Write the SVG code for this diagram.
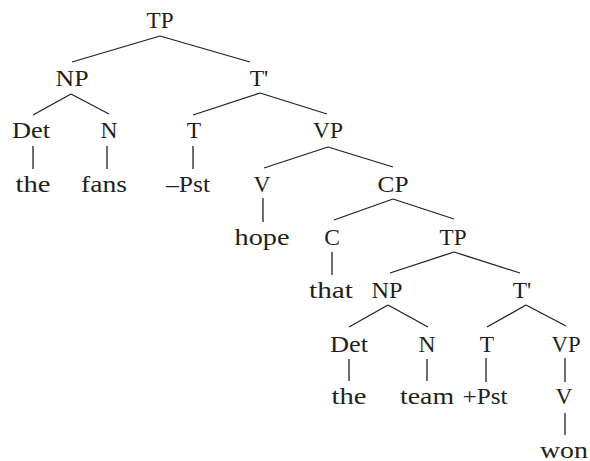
<svg xmlns="http://www.w3.org/2000/svg" width="590" height="461" viewBox="0 0 590 461">
  <style>
    .lbl { font-family: "Liberation Serif", "Times New Roman", serif; font-size: 23.5px; fill: #231f20; text-anchor: middle; }
    .edge { stroke: #231f20; stroke-width: 1.3; fill: none; stroke-linecap: butt; }
  </style>
  <rect width="590" height="461" fill="#ffffff"/>

  <!-- tree branches -->
  <g id="connectors" class="edge">
    <!-- TP (matrix) -->
    <line x1="160" y1="36" x2="72" y2="62"/>
    <line x1="160" y1="36" x2="250" y2="62"/>
    <!-- NP (subject) -->
    <line x1="71" y1="94" x2="33" y2="115"/>
    <line x1="71" y1="94" x2="109" y2="114"/>
    <!-- T' (matrix) -->
    <line x1="260" y1="93" x2="193" y2="115"/>
    <line x1="260" y1="93" x2="327" y2="114"/>
    <!-- terminals of row 2 -->
    <line x1="33" y1="146" x2="33" y2="169"/>
    <line x1="107" y1="146" x2="107" y2="169"/>
    <line x1="193" y1="146" x2="193" y2="169"/>
    <!-- VP (matrix) -->
    <line x1="328" y1="147" x2="264" y2="168"/>
    <line x1="328" y1="147" x2="393" y2="167"/>
    <!-- V hope -->
    <line x1="263" y1="198" x2="263" y2="222"/>
    <!-- CP -->
    <line x1="393" y1="199" x2="334" y2="220"/>
    <line x1="393" y1="199" x2="454" y2="219"/>
    <!-- C that -->
    <line x1="332" y1="252" x2="332" y2="275"/>
    <!-- TP (embedded) -->
    <line x1="454" y1="252" x2="390" y2="273"/>
    <line x1="454" y1="252" x2="520" y2="273"/>
    <!-- NP (embedded) -->
    <line x1="388" y1="305" x2="349" y2="327"/>
    <line x1="388" y1="305" x2="428" y2="327"/>
    <!-- T' (embedded) -->
    <line x1="526" y1="305" x2="487" y2="327"/>
    <line x1="526" y1="305" x2="566" y2="326"/>
    <!-- terminals of row 6 -->
    <line x1="349" y1="359" x2="349" y2="381"/>
    <line x1="427" y1="359" x2="427" y2="381"/>
    <line x1="486" y1="358" x2="486" y2="382"/>
    <line x1="565" y1="358" x2="565" y2="382"/>
    <!-- V won -->
    <line x1="565" y1="413" x2="565" y2="435"/>
  </g>

  <!-- matrix clause -->
  <g id="tp1"><text class="lbl" x="160" y="28" textLength="27" lengthAdjust="spacingAndGlyphs">TP</text></g>
  <g id="np1"><text class="lbl" x="72" y="86" textLength="33" lengthAdjust="spacingAndGlyphs">NP</text></g>
  <g id="tbar1"><text class="lbl" x="259" y="86">T'</text></g>
  <g id="det1"><text class="lbl" x="31" y="138" textLength="38" lengthAdjust="spacingAndGlyphs">Det</text></g>
  <g id="n1"><text class="lbl" x="109" y="138">N</text></g>
  <g id="t1"><text class="lbl" x="194" y="138">T</text></g>
  <g id="vp1"><text class="lbl" x="328" y="138" textLength="30" lengthAdjust="spacingAndGlyphs">VP</text></g>
  <g id="the1"><text class="lbl" x="33" y="192" textLength="35" lengthAdjust="spacingAndGlyphs">the</text></g>
  <g id="fans"><text class="lbl" x="104" y="192" textLength="46" lengthAdjust="spacingAndGlyphs">fans</text></g>
  <g id="pst1"><text class="lbl" x="188" y="192" textLength="44" lengthAdjust="spacingAndGlyphs">–Pst</text></g>
  <g id="v1"><text class="lbl" x="262" y="192">V</text></g>
  <g id="cp"><text class="lbl" x="393" y="192" textLength="31" lengthAdjust="spacingAndGlyphs">CP</text></g>
  <g id="hope"><text class="lbl" x="262" y="245" textLength="55" lengthAdjust="spacingAndGlyphs">hope</text></g>
  <g id="c"><text class="lbl" x="332" y="245">C</text></g>

  <!-- embedded clause -->
  <g id="tp2"><text class="lbl" x="453" y="245" textLength="27" lengthAdjust="spacingAndGlyphs">TP</text></g>
  <g id="that"><text class="lbl" x="331" y="298" textLength="44" lengthAdjust="spacingAndGlyphs">that</text></g>
  <g id="np2"><text class="lbl" x="387" y="298" textLength="31" lengthAdjust="spacingAndGlyphs">NP</text></g>
  <g id="tbar2"><text class="lbl" x="522" y="298">T'</text></g>
  <g id="det2"><text class="lbl" x="349" y="352" textLength="38" lengthAdjust="spacingAndGlyphs">Det</text></g>
  <g id="n2"><text class="lbl" x="427" y="352">N</text></g>
  <g id="t2"><text class="lbl" x="487" y="352">T</text></g>
  <g id="vp2"><text class="lbl" x="566" y="352" textLength="29" lengthAdjust="spacingAndGlyphs">VP</text></g>
  <g id="the2"><text class="lbl" x="349" y="404" textLength="35" lengthAdjust="spacingAndGlyphs">the</text></g>
  <g id="team"><text class="lbl" x="427" y="404" textLength="54" lengthAdjust="spacingAndGlyphs">team</text></g>
  <g id="pst2"><text class="lbl" x="485" y="404" textLength="45" lengthAdjust="spacingAndGlyphs">+Pst</text></g>
  <g id="v2"><text class="lbl" x="564" y="404">V</text></g>
  <g id="won"><text class="lbl" x="564" y="458" textLength="48" lengthAdjust="spacingAndGlyphs">won</text></g>
</svg>
